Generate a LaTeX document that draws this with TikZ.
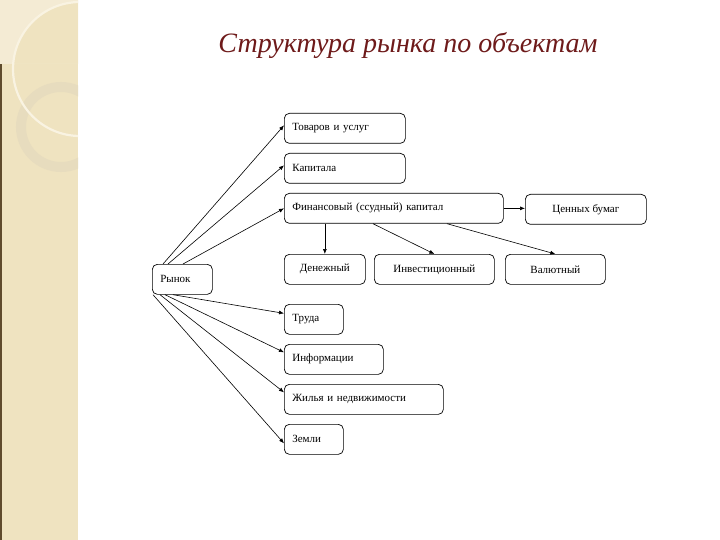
\documentclass[tikz,border=0pt]{standalone}
\usepackage{fontspec}
\setmainfont{Liberation Serif}
\usetikzlibrary{arrows.meta,calc}
\definecolor{stripbg}{RGB}{239,227,192}
\definecolor{striplight}{RGB}{244,235,212}
\definecolor{ringcol}{RGB}{231,220,190}
\definecolor{arccol}{RGB}{249,243,226}
\definecolor{edgecol}{RGB}{95,75,45}
\definecolor{titlered}{RGB}{110,26,26}
\begin{document}
\begin{tikzpicture}[x=1pt,y=-1pt,
  box/.style={draw=black,line width=0.7pt,rounded corners=5pt,minimum height=30pt,
    inner xsep=8pt,inner ysep=0pt,font=\fontsize{11}{13}\selectfont,anchor=north west},
  lbox/.style={box,align=left},
  cbox/.style={box,align=center},
  arr/.style={-{Latex[length=5pt,width=4pt]},line width=0.6pt}]
\useasboundingbox (0,0) rectangle (720,540);
\fill[white] (0,0) rectangle (720,540);
% left decorative strip
\fill[stripbg] (0,0) rectangle (78,540);
\begin{scope}
  \clip (0,0) rectangle (78,540);
  \begin{scope}
    \clip (0,0) rectangle (78,64);
    \fill[striplight,even odd rule] (0,0) rectangle (78,64) (80,69) circle[radius=67pt];
  \end{scope}
  \draw[ringcol,line width=10pt] (61,127) circle[radius=40pt];
  \draw[arccol,line width=2.2pt] (80,69) circle[radius=67pt];
\end{scope}
\fill[edgecol] (0,64) rectangle (2,540);
% title
\node[text=titlered,font=\fontsize{28}{33}\selectfont\itshape] (title) at (408,46) {Структура рынка по объектам};
% boxes
\node[lbox,minimum width=121pt,text width=105pt] (tov) at (284,113) {Товаров и услуг};
\node[lbox,minimum width=121pt,text width=105pt] (kap) at (284,153) {Капитала};
\node[lbox,minimum width=219pt,text width=203pt] (fin) at (284,193) {Финансовый (ссудный) капитал};
\node[cbox,minimum width=121pt] (cen) at (525,194) {Ценных бумаг};
\node[cbox,minimum width=81pt] (den) at (284,254) {Денежный};
\node[cbox,minimum width=120pt] (inv) at (374,254) {Инвестиционный};
\node[cbox,minimum width=100pt] (val) at (505,254) {Валютный};
\node[lbox,minimum width=60pt,text width=44pt] (ryn) at (152,264) {Рынок};
\node[lbox,minimum width=59pt,text width=43pt] (tru) at (284,304) {Труда};
\node[lbox,minimum width=99pt,text width=83pt] (inf) at (284,344) {Информации};
\node[lbox,minimum width=159pt,text width=143pt] (zhil) at (284,384) {Жилья и недвижимости};
\node[lbox,minimum width=59pt,text width=43pt] (zem) at (284,424) {Земли};
% connectors from Рынок
\draw[arr] ($(ryn.north west)+(11,0)$) -- ($(tov.west)+(0,-3)$);
\draw[arr] ($(ryn.north west)+(16,0)$) -- ($(kap.west)+(0,-3)$);
\draw[arr] ($(ryn.north west)+(31,0)$) -- (fin.west);
\draw[arr] ($(ryn.south west)+(21,0)$) -- ($(tru.west)+(0,-6)$);
\draw[arr] ($(ryn.south west)+(13,0)$) -- ($(inf.west)+(0,-7)$);
\draw[arr] ($(ryn.south west)+(8,0)$) -- ($(zhil.west)+(0,-7)$);
\draw[arr] ($(ryn.south west)+(1,0)$) -- ($(zem.west)+(0,4)$);
% connectors from Финансовый
\draw[arr] (fin.south -| den.north) -- (den.north);
\draw[arr] ($(fin.south west)+(89,0)$) -- (inv.north);
\draw[arr] ($(fin.south west)+(163,0)$) -- (val.north);
\draw[arr] (fin.east) -- (cen.west |- fin.east);
\end{tikzpicture}
\end{document}
